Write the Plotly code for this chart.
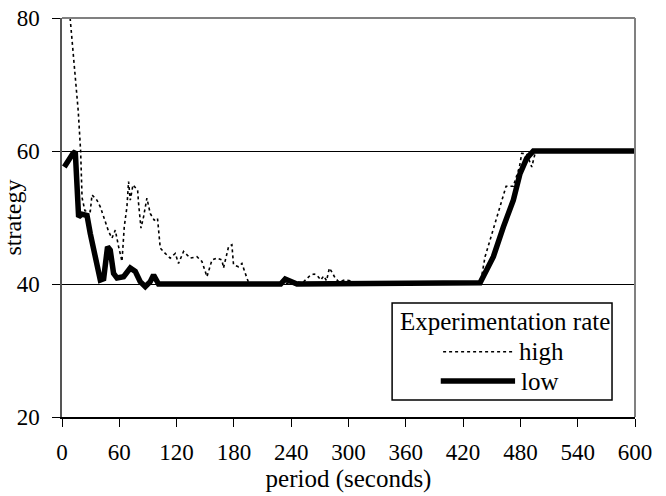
import plotly.graph_objects as go

# Mean strategy over a 600-second session, for two experimentation rates
high_t = [8.5, 17, 19.5, 21, 24, 29.6, 31.4, 36.6, 40.1, 43.6, 48.8, 52.3, 55.8, 59.3,
          62.8, 65.2, 68, 69.7, 71.5, 74.3, 79.2, 80.2, 82.7, 85.4, 88.9, 92.4, 96.6,
          100, 102.9, 108.1, 113.3, 118.6, 122, 127.3, 134.3, 141.3, 146.5, 151.8, 157,
          162.2, 167.5, 169.1, 174.4, 177.9, 179.6, 184.8, 188.4, 193.6, 196, 230, 246,
          252, 256, 260, 264, 267, 271, 274, 277, 280, 283, 286, 290, 296, 301.7, 305,
          438, 443, 448.2, 453.5, 457, 460.5, 465, 472.6, 475.5, 479, 481.4, 486.6,
          491.9, 495.3, 498, 600]
high_v = [80, 66, 60, 53, 51, 50.9, 53.4, 52.6, 51.6, 50.1, 47.9, 46.9, 48.1, 45.6,
          43.4, 48.6, 51.6, 55.4, 52.6, 54.9, 54.1, 52.1, 48.4, 50.1, 52.9, 50.6, 49.6,
          49.9, 45.4, 44.6, 43.9, 44.6, 43.1, 44.9, 43.9, 44.1, 43.4, 41.1, 43.6,
          43.9, 43.6, 42.4, 45.6, 45.9, 42.9, 42.6, 43.1, 40.9, 40, 40, 40.3,
          40.2, 40.8, 41.3, 41.5, 41.3, 40.6, 41.2, 40.5, 42.4, 41.7, 40.9, 40.3, 40.6, 40.5, 40,
          40, 44.1, 46.6, 49.1, 50.6, 52.6, 54.7, 54.7, 56.1, 57.6, 59.65, 59.6,
          57.6, 59.6, 60, 60]

low_t = [2.4, 5, 8, 11.5, 13.9, 15.7, 17.4, 21, 26.2, 29.6, 34.9, 40.1, 43.6, 47.7,
         50.5, 54, 57.6, 64.5, 71.5, 76.7, 81.9, 87.2, 92.4, 95.9, 101.1, 229, 233.7,
         238, 246, 437.8, 451.7, 462.2, 472.6, 479.6, 486.6, 493.6, 600]
low_v = [57.6, 58.2, 59, 59.65, 59.9, 53.1, 50.1, 50.5, 50.3, 47.6, 44.1, 40.6, 40.8, 45.6,
         45.1, 41.6, 40.9, 41.1, 42.4, 41.9, 40.35, 39.6, 40.35, 41.35, 40, 40, 40.75,
         40.5, 40, 40.2, 44.1, 48.6, 52.6, 56.6, 58.9, 60, 60]

x_ticks = list(range(0, 601, 60))
y_ticks = [20, 40, 60, 80]

legend_title = "Experimentation rate"
series_names = ["high", "low"]

FONT = "Liberation Serif"

fig = go.Figure()
fig.add_trace(go.Scatter(x=high_t, y=high_v, mode="lines", name=series_names[0],
                         line=dict(color="black", width=1.6, dash="3px,3px"),
                         showlegend=False))
fig.add_trace(go.Scatter(x=low_t, y=low_v, mode="lines", name=series_names[1],
                         line=dict(color="black", width=5.5),
                         showlegend=False))

fig.update_layout(
    width=666, height=496,
    margin=dict(l=62, r=31, t=18, b=79),
    paper_bgcolor="white", plot_bgcolor="white",
    font=dict(family=FONT, size=23, color="black"),
    xaxis=dict(range=[0, 600], tickvals=x_ticks, ticks="outside", ticklen=8,
               tickcolor="black", tickwidth=1, showline=True, linecolor="black",
               linewidth=1.5, showgrid=False, zeroline=False, automargin=False,
               tickfont=dict(family=FONT, size=23), ticklabelstandoff=6,
               title=dict(text="period (seconds)", font=dict(family=FONT, size=25),
                          standoff=4)),
    yaxis=dict(range=[20, 80], tickvals=y_ticks, ticks="outside", ticklen=8,
               tickcolor="black", tickwidth=1, showline=True, linecolor="#555555",
               linewidth=1.5, showgrid=True, gridcolor="black", gridwidth=1,
               zeroline=False, automargin=False,
               tickfont=dict(family=FONT, size=23), ticklabelstandoff=8,
               title=dict(text="strategy", font=dict(family=FONT, size=24), standoff=6)),
)

# Plot-area frame on the top and right edges
fig.add_shape(type="line", xref="paper", yref="paper", x0=0, x1=1, y0=1, y1=1,
              line=dict(color="#808080", width=2))
fig.add_shape(type="line", xref="paper", yref="paper", x0=1, x1=1, y0=0, y1=1,
              line=dict(color="#808080", width=2))

# Legend box
fig.add_shape(type="rect", xref="paper", yref="paper", x0=0.5761, x1=0.9599,
              y0=0.0426, y1=0.2857, line=dict(color="black", width=1.5),
              fillcolor="white", layer="above")
fig.add_annotation(xref="paper", yref="paper", x=0.7727, y=0.2381, text=legend_title,
                   showarrow=False, xanchor="center", yanchor="middle",
                   font=dict(family=FONT, size=25))
fig.add_shape(type="line", xref="paper", yref="paper", x0=0.6651, x1=0.7872,
              y0=0.1637, y1=0.1637, line=dict(color="black", width=1.6, dash="3px,3px"),
              layer="above")
fig.add_annotation(xref="paper", yref="paper", x=0.7937, y=0.1637, text=series_names[0],
                   showarrow=False, xanchor="left", yanchor="middle",
                   font=dict(family=FONT, size=25))
fig.add_shape(type="line", xref="paper", yref="paper", x0=0.661, x1=0.7907,
              y0=0.0902, y1=0.0902, line=dict(color="black", width=5.5), layer="above")
fig.add_annotation(xref="paper", yref="paper", x=0.7970, y=0.0902, text=series_names[1],
                   showarrow=False, xanchor="left", yanchor="middle",
                   font=dict(family=FONT, size=25))

fig.write_html("out.html")
